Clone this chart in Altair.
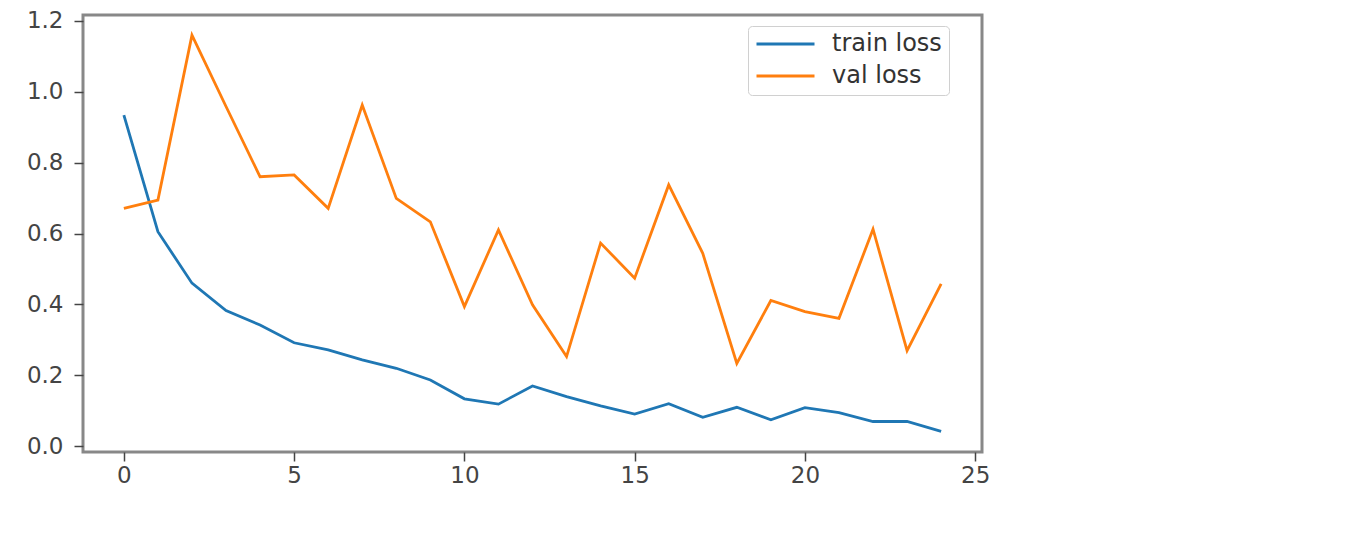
import altair as alt
import pandas as pd

epochs = list(range(25))
train_loss = [0.934, 0.605, 0.460, 0.383, 0.342, 0.292, 0.272, 0.244, 0.220, 0.187,
              0.134, 0.119, 0.170, 0.140, 0.114, 0.091, 0.120, 0.082, 0.110, 0.075,
              0.109, 0.095, 0.070, 0.070, 0.042]
val_loss = [0.671, 0.694, 1.159, 0.958, 0.760, 0.765, 0.671, 0.962, 0.699, 0.633,
            0.394, 0.610, 0.399, 0.253, 0.573, 0.474, 0.737, 0.544, 0.234, 0.411,
            0.380, 0.361, 0.612, 0.270, 0.458]
series_names = ["train loss", "val loss"]
series_colors = ["#1f77b4", "#ff7f0e"]
x_ticks = [0, 5, 10, 15, 20, 25]
y_ticks = [0.0, 0.2, 0.4, 0.6, 0.8, 1.0, 1.2]

rows = []
for e, v in zip(epochs, train_loss):
    rows.append({"epoch": e, "loss": v, "series": series_names[0]})
for e, v in zip(epochs, val_loss):
    rows.append({"epoch": e, "loss": v, "series": series_names[1]})
df = pd.DataFrame(rows)

font = "DejaVu Sans"

chart = alt.Chart(df).mark_line(strokeWidth=2.8).encode(
    x=alt.X("epoch:Q",
            scale=alt.Scale(domain=[-1.2, 25.2], nice=False, zero=False),
            axis=alt.Axis(values=x_ticks, title=None, format="d", grid=False,
                          domain=False, tickSize=9, tickWidth=1.5, tickColor="#444",
                          labelPadding=3, labelFontSize=23, labelColor="#444",
                          labelFont=font, labelFlush=False)),
    y=alt.Y("loss:Q",
            scale=alt.Scale(domain=[-0.016, 1.216], nice=False, zero=False),
            axis=alt.Axis(values=y_ticks, title=None, format=".1f", grid=False,
                          domain=False, tickSize=9, tickWidth=1.5, tickColor="#444",
                          labelPadding=11, labelFontSize=23, labelColor="#444",
                          labelFont=font, labelFlush=False)),
    color=alt.Color("series:N",
                    scale=alt.Scale(domain=series_names, range=series_colors),
                    legend=alt.Legend(title=None, orient="none", legendX=665, legendY=11,
                                      fillColor="white", strokeColor="#d0d0d0",
                                      cornerRadius=4, padding=7,
                                      symbolType="stroke", symbolSize=3364,
                                      symbolStrokeWidth=2.8, labelFontSize=24,
                                      labelFont=font, labelColor="#333",
                                      labelOffset=16, clipHeight=22, rowPadding=8)),
    detail="series:N",
).properties(
    width=899, height=437,
    autosize=alt.AutoSizeParams(type="none"),
    padding={"left": 75, "top": 7, "right": 20, "bottom": 60},
).configure(
    background="white",
    view=alt.ViewConfig(stroke="#888888", strokeWidth=3),
)

chart.save("out.html", embed_options={"renderer": "svg", "actions": False})
